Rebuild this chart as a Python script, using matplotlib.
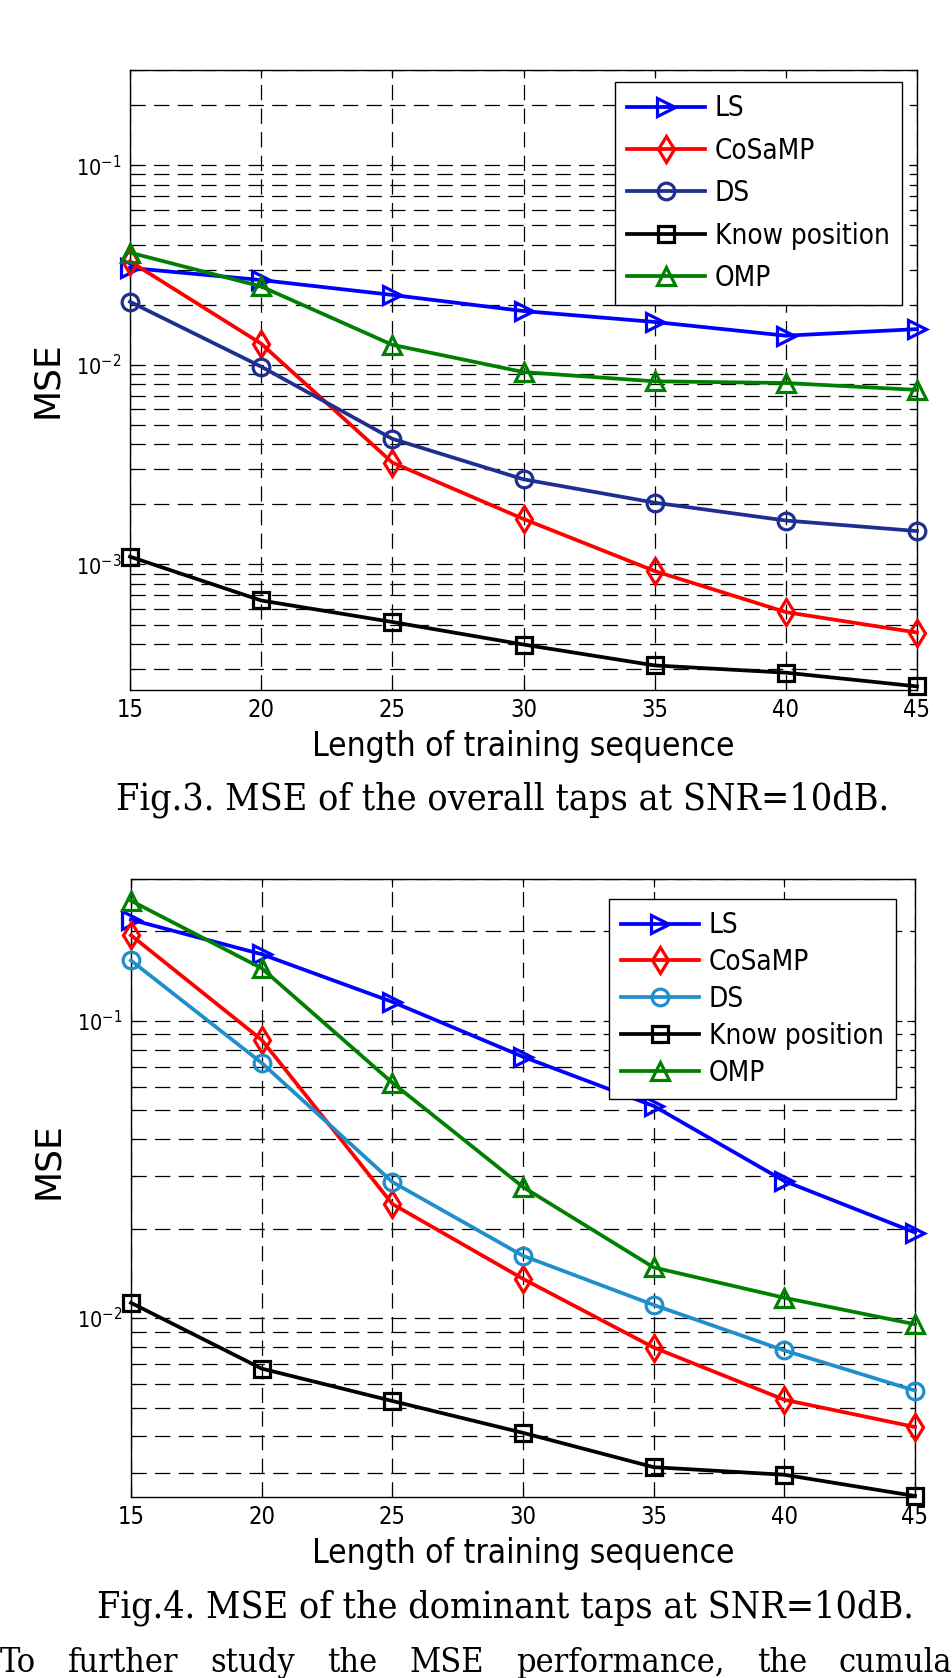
import matplotlib
matplotlib.use("Agg")
import matplotlib.pyplot as plt
from matplotlib.ticker import LogLocator, NullFormatter, FixedLocator

# ---------------- data ----------------
lengths = [15, 20, 25, 30, 35, 40, 45]
series_names = ["LS", "CoSaMP", "DS", "Know position", "OMP"]

# Fig.3 : MSE of the overall taps
overall_ls = [0.0306, 0.0266, 0.0224, 0.0186, 0.0164, 0.0140, 0.0151]
overall_cosamp = [0.0330, 0.01277, 0.00324, 0.00169, 0.000927, 0.000577, 0.000456]
overall_ds = [0.0207, 0.0098, 0.00426, 0.00267, 0.00204, 0.00166, 0.00147]
overall_known = [0.001094, 0.00066, 0.000515, 0.000397, 0.000312, 0.000287, 0.000245]
overall_omp = [0.0365, 0.0247, 0.0126, 0.0092, 0.00827, 0.00811, 0.00749]

# Fig.4 : MSE of the dominant taps
dominant_ls = [0.219, 0.1675, 0.1158, 0.0757, 0.0517, 0.0289, 0.0194]
dominant_cosamp = [0.194, 0.0863, 0.0242, 0.01355, 0.00796, 0.00531, 0.0043]
dominant_ds = [0.1596, 0.0722, 0.0287, 0.0162, 0.01107, 0.00778, 0.0057]
dominant_known = [0.01125, 0.00676, 0.00526, 0.00411, 0.00315, 0.00297, 0.00252]
dominant_omp = [0.2535, 0.1503, 0.0619, 0.0276, 0.0148, 0.0117, 0.00953]

x_ticks = [15, 20, 25, 30, 35, 40, 45]
x_label = "Length of training sequence"
y_label = "MSE"
caption3 = "Fig.3. MSE of the overall taps at SNR=10dB."
caption4 = "Fig.4. MSE of the dominant taps at SNR=10dB."
body_words = ["To", "further", "study", "the", "MSE", "performance,", "the", "cumula"]

# ---------------- style ----------------
SANS = ["DejaVu Sans Condensed", "DejaVu Sans"]
SERIF = ["DejaVu Serif Condensed", "DejaVu Serif"]
plt.rcParams["lines.scale_dashes"] = False
plt.rcParams["mathtext.default"] = "regular"
plt.rcParams["font.family"] = SANS
plt.rcParams["font.stretch"] = "condensed"

W, H = 952, 1678
fig = plt.figure(figsize=(W / 100, H / 100), dpi=100)

markers = [">", "d", "o", "s", "^"]
colors_top = ["#0000ff", "#ff0000", "#1f2f8f", "#000000", "#008000"]
colors_bot = ["#0000ff", "#ff0000", "#1f8fcc", "#000000", "#008000"]


def axes_px(l, t, r, b):
    return [l / W, 1 - b / H, (r - l) / W, (b - t) / H]


def draw(ax, data, colors, ylim, legend_anchor, legend_fs, legend_spacing, ylabel_y):
    for vals, name, mk, c in zip(data, series_names, markers, colors):
        ax.plot(lengths, vals, color=c, lw=2.7, marker=mk, ms=12 if mk in "o s" else 13.5,
                mfc="none", mec=c, mew=2.3, label=name, clip_on=False, zorder=3)
    ax.set_yscale("log")
    ax.set_xlim(15, 45)
    ax.set_ylim(*ylim)
    ax.xaxis.set_major_locator(FixedLocator(x_ticks))
    ax.yaxis.set_major_locator(LogLocator(base=10, numticks=10))
    ax.yaxis.set_minor_locator(LogLocator(base=10, subs=range(2, 10), numticks=20))
    ax.yaxis.set_minor_formatter(NullFormatter())
    ax.grid(True, which="major", axis="both", color="black", lw=0.9, ls=(0, (11, 6)))
    ax.grid(True, which="minor", axis="y", color="black", lw=0.9, ls=(0, (11, 6)))
    ax.tick_params(which="both", direction="in", top=True, right=True, width=0.8, pad=6)
    ax.tick_params(axis="x", labelsize=17)
    ax.tick_params(axis="y", labelsize=15.5)
    ax.tick_params(which="major", length=6)
    ax.tick_params(which="minor", length=3.5)
    for sp in ax.spines.values():
        sp.set_linewidth(1.0)
    ax.set_xlabel(x_label, fontsize=24)
    ax.xaxis.set_label_coords(0.5, -0.064)
    ax.set_ylabel(y_label, fontsize=26, family=["DejaVu Sans"], fontstretch="normal")
    ax.yaxis.set_label_coords(-0.084, ylabel_y)
    leg = ax.legend(loc="upper right", bbox_to_anchor=legend_anchor, fontsize=legend_fs,
                    frameon=True, fancybox=False, edgecolor="black", framealpha=1,
                    handlelength=2.8, handletextpad=0.35, labelspacing=legend_spacing,
                    borderpad=0.45, borderaxespad=0)
    leg.get_frame().set_linewidth(1.0)


ax1 = fig.add_axes(axes_px(130, 70, 917, 690))
draw(ax1, [overall_ls, overall_cosamp, overall_ds, overall_known, overall_omp],
     colors_top, (2.35e-4, 0.3), (0.981, 0.981), 20, 0.52, 0.5)

ax2 = fig.add_axes(axes_px(131, 879, 915, 1497))
draw(ax2, [dominant_ls, dominant_cosamp, dominant_ds, dominant_known, dominant_omp],
     colors_bot, (0.0025, 0.3), (0.976, 0.968), 20, 0.32, 0.545)

fig.text(503 / W, 1 - 810 / H, caption3, fontsize=27, ha="center", va="baseline", family=SERIF)
fig.text(505 / W, 1 - 1618 / H, caption4, fontsize=27, ha="center", va="baseline", family=SERIF)

# justified body line (cut off at the right edge, as on the page)
renderer = fig.canvas.get_renderer()
x_px = 0.0
gap_px = 32.0
for wd in body_words:
    t = fig.text(x_px / W, 1 - 1672 / H, wd, fontsize=24.5, ha="left", va="baseline",
                 family=SERIF)
    bb = t.get_window_extent(renderer=renderer)
    x_px = bb.x1 + gap_px

fig.savefig("out.png", dpi=100)
